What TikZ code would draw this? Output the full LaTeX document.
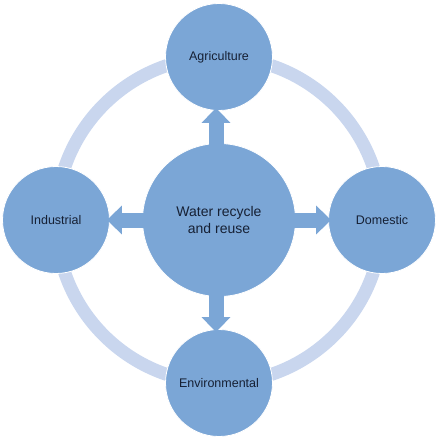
\documentclass[tikz,border=0pt]{standalone}
\usepackage{fontspec}
\setmainfont{Liberation Sans}
\usetikzlibrary{arrows.meta}
\definecolor{hubblue}{RGB}{123,166,214}
\definecolor{ringblue}{RGB}{201,214,238}
\definecolor{textnavy}{RGB}{22,32,52}

\begin{document}
\begin{tikzpicture}[x=1pt, y=-1pt,
    usecircle/.style={circle, fill=hubblue, draw=white, line width=0.8pt,
      text=textnavy, inner sep=0pt, minimum size=107pt,
      font=\fontsize{12.5}{15}\selectfont},
    flowarrow/.style={draw=hubblue, line width=15pt,
      -{Triangle[width=28pt, length=15pt]},
      shorten >=-3pt, shorten <=-2pt}]
  \def\radius{163}
  \def\cx{219}
  \def\cy{220}

  \useasboundingbox (0,0) rectangle (438,438);

  % Anel de fundo
  \draw[ringblue, line width=13pt] (\cx,\cy) circle (\radius);

  % Círculo central
  \node[usecircle, minimum size=153pt, align=center,
        font=\fontsize{14}{17}\selectfont] (hub) at (\cx,\cy)
    {Water recycle\\and reuse};

  % Círculos em volta: cima, direita, baixo, esquerda
  \node[usecircle] (agri) at (\cx,{\cy-\radius}) {Agriculture};
  \node[usecircle] (dom)  at ({\cx+\radius},\cy) {Domestic};
  \node[usecircle] (env)  at (\cx,{\cy+\radius}) {Environmental};
  \node[usecircle] (ind)  at ({\cx-\radius},\cy) {Industrial};

  % Setas do centro para fora
  \draw[flowarrow] ([xshift=-3pt]hub.north) -- ([xshift=-3pt]agri.south);
  \draw[flowarrow] (hub.east) -- (dom.west);
  \draw[flowarrow] ([xshift=-3pt]hub.south) -- ([xshift=-3pt]env.north);
  \draw[flowarrow] (hub.west) -- (ind.east);

\end{tikzpicture}
\end{document}
